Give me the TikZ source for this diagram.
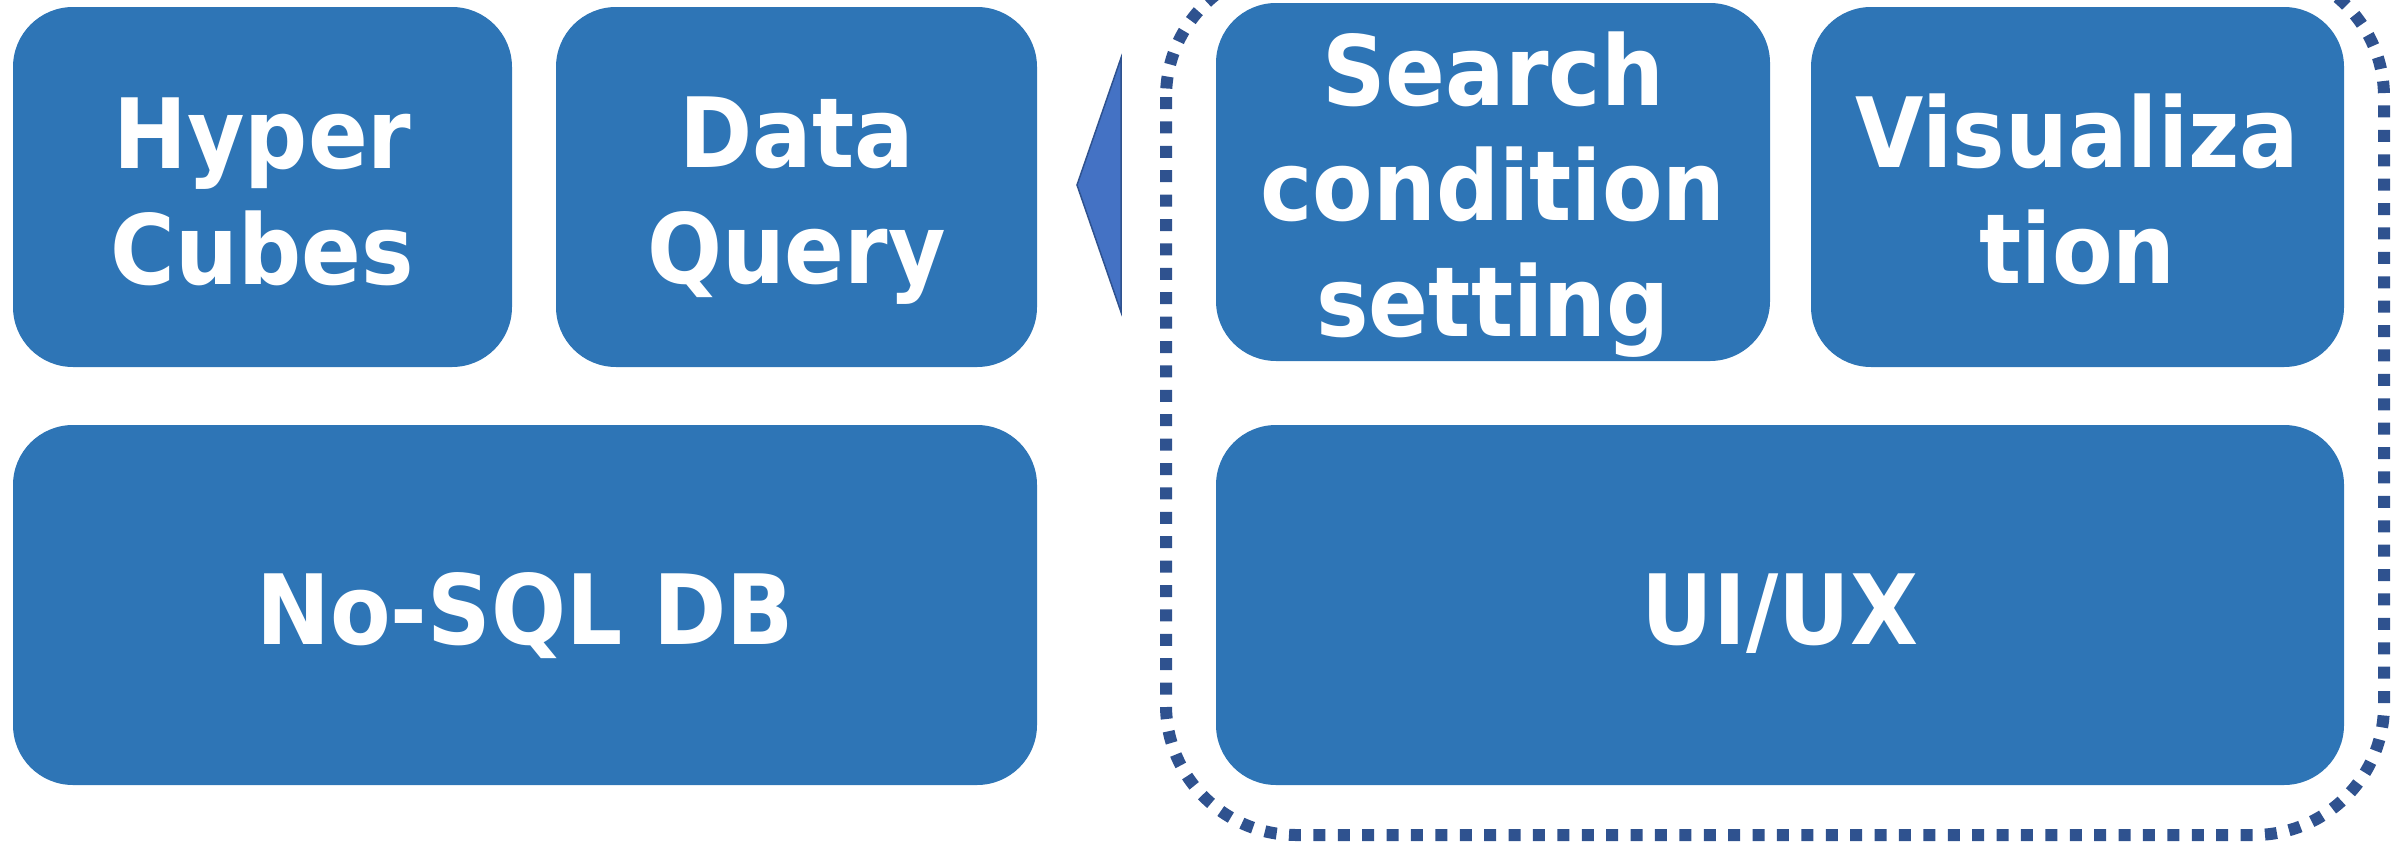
\documentclass[tikz,border=0pt]{standalone}
\usepackage{fontspec}
\newfontfamily\boxfont[FakeStretch=0.91]{DejaVu Sans}
\definecolor{boxblue}{RGB}{46,117,182}
\definecolor{triblue}{RGB}{68,114,196}
\definecolor{tribord}{RGB}{47,82,143}
\definecolor{framecol}{RGB}{47,82,143}
\begin{document}
\begin{tikzpicture}[x=1pt,y=-1pt,
  boxshape/.style={rectangle, fill=boxblue, rounded corners=60pt, inner sep=0pt},
  boxtext/.style={text=white, align=center, inner sep=0pt,
    font=\boxfont\bfseries\fontsize{97}{115.5}\selectfont},
  tri/.style={fill=triblue, draw=tribord, line width=1.5pt, line join=miter},
  groupframe/.style={draw=framecol, line width=12pt, dash pattern=on 12pt off 12.4pt, rounded corners=130pt}]
\useasboundingbox (0,0) rectangle (2399,841);
% boxes
\node[boxshape, minimum width=499pt, minimum height=360pt] (hyper) at (262.5,187) {};
\node[boxshape, minimum width=481pt, minimum height=360pt] (query) at (796.5,187) {};
\node[boxshape, minimum width=554pt, minimum height=358pt] (search) at (1493,182) {};
\node[boxshape, minimum width=533pt, minimum height=360pt] (vis) at (2077.5,187) {};
\node[boxshape, minimum width=1024pt, minimum height=360pt] (nosql) at (525,605) {};
\node[boxshape, minimum width=1128pt, minimum height=360pt] (uiux) at (1780,605) {};
% texts
\node[boxtext, anchor=base] (hypert) at (hyper.center |- 0,284) {Hyper\\Cubes};
\node[boxtext, anchor=base] (queryt) at (query.center |- 0,283) {Data\\Query};
\node[boxtext, anchor=base] (searcht) at (search.center |- 0,336) {Search\\condition\\setting};
\node[boxtext, anchor=base] (vist) at (vis.center |- 0,283) {Visualiza\\tion};
\node[boxtext, anchor=base] (nosqlt) at (nosql.center |- 0,644) {No-SQL DB};
\node[boxtext, anchor=base] (uiuxt) at (uiux.center |- 0,644) {UI/UX};
% arrow head shape
\coordinate (tritop) at (1121,58);
\coordinate (tritip) at (1077,185);
\coordinate (tribot) at (1121,312);
\draw[tri] (tritop) -- (tritip) -- (tribot) -- cycle;
% dotted group frame
\draw[groupframe] (1166,-33) rectangle (2384,835);
\end{tikzpicture}
\end{document}
